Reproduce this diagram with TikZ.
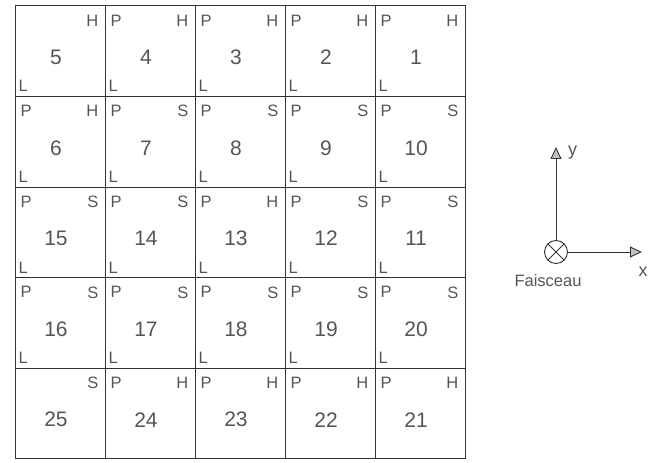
\documentclass[tikz,border=0pt]{standalone}
\usepackage{fontspec}
\setmainfont{Liberation Sans}
\usetikzlibrary{
  arrows.meta,
  calc,
  positioning
}
\definecolor{inkgray}{HTML}{555555}
\definecolor{rulegray}{HTML}{333333}
\tikzset{
  cell/.style={
    draw=rulegray,
    line width=1pt,
    rectangle,
    minimum width=90pt,
    minimum height=90.6pt,
    inner sep=0pt
  },
  numlabel/.style={text=inkgray, font=\fontsize{21}{23}\selectfont, xshift=-4pt, yshift=-6pt},
  cornerlabel/.style={text=inkgray, font=\fontsize{16.5}{18}\selectfont, inner sep=0pt},
  plabel/.style={cornerlabel, anchor=north west, xshift=6pt, yshift=-9pt},
  hlabel/.style={cornerlabel, anchor=north east, xshift=-7pt, yshift=-9pt},
  llabel/.style={cornerlabel, anchor=south west, xshift=4pt, yshift=5pt},
  axis/.style={draw=rulegray, line width=0.9pt, -{Triangle[length=12pt,width=11pt,fill=black!25]}},
  axlabel/.style={text=inkgray, font=\fontsize{18}{20}\selectfont, inner sep=0pt},
  beam/.style={
    circle,
    draw=rulegray,
    line width=0.9pt,
    minimum size=23pt,
    inner sep=0pt,
    path picture={
      \draw[rulegray, line width=0.9pt]
        (path picture bounding box.north west) -- (path picture bounding box.south east)
        (path picture bounding box.north east) -- (path picture bounding box.south west);
    }
  }
}

\begin{document}
\begin{tikzpicture}[x=1pt, y=1pt]
  \useasboundingbox (0,0) rectangle (651,463);

  % detector cells: number/column/row/top left/top right/bottom left
  \foreach \n/\c/\r/\p/\h/\l in {
      5/0/0/{}/H/L, 4/1/0/P/H/L, 3/2/0/P/H/L, 2/3/0/P/H/L, 1/4/0/P/H/L,
      6/0/1/P/H/L, 7/1/1/P/S/L, 8/2/1/P/S/L, 9/3/1/P/S/L, 10/4/1/P/S/L,
      15/0/2/P/S/L, 14/1/2/P/S/L, 13/2/2/P/H/L, 12/3/2/P/S/L, 11/4/2/P/S/L,
      16/0/3/P/S/L, 17/1/3/P/S/L, 18/2/3/P/S/L, 19/3/3/P/S/L, 20/4/3/P/S/L,
      25/0/4/{}/S/{}, 24/1/4/P/H/{}, 23/2/4/P/H/{}, 22/3/4/P/H/{}, 21/4/4/P/H/{}} {
    \node[cell] (cell\n) at ({60+90*\c},{411.7-90.6*\r}) {};
    \node[numlabel] at (cell\n.center) {\n};
    \node[plabel] at (cell\n.north west) {\p};
    \node[hlabel] at (cell\n.north east) {\h};
    \node[llabel] at (cell\n.south west) {\l};
  }

  % beam axes
  \node[beam] (beam) at (556,211) {};
  \coordinate (ytip) at (556,316);
  \coordinate (xtip) at (642,211);
  \draw[axis] (beam.north) -- (ytip);
  \draw[axis] (beam.east) -- (xtip);
  \node[axlabel, anchor=base west] (ylab) at ($(ytip)+(12,-9)$) {y};
  \node[axlabel] (xlab) at ($(xtip)+(1,-20)$) {x};
  \node[axlabel, font=\fontsize{16.5}{18}\selectfont, below=10pt of beam, xshift=-8pt] (beamlab) {Faisceau};
\end{tikzpicture}
\end{document}
